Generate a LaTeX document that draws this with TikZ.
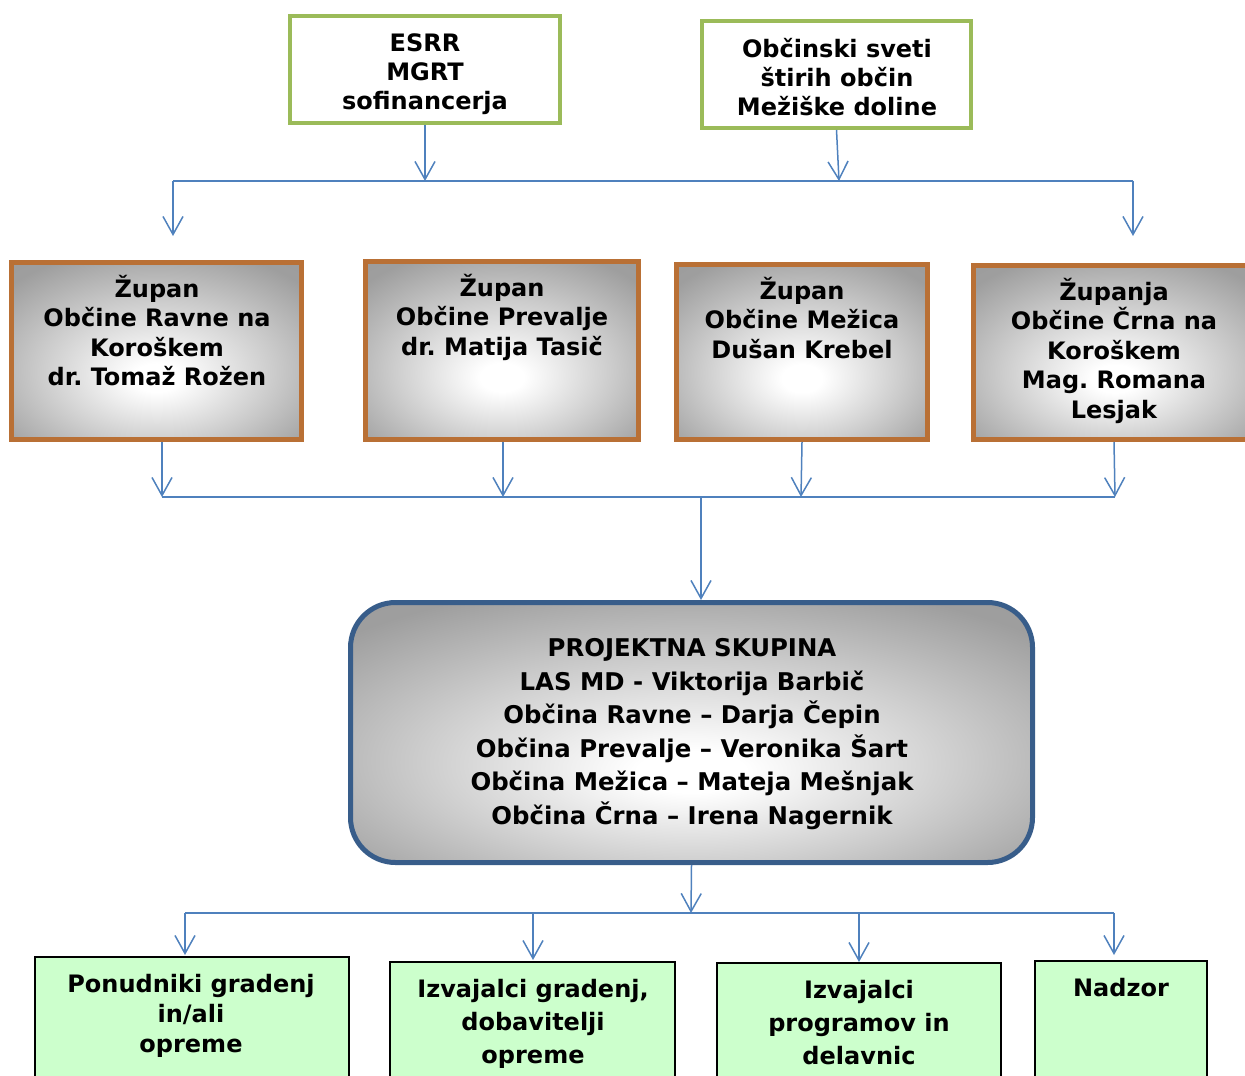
\documentclass[tikz,border=0pt]{standalone}
\usepackage{fontspec}
\setmainfont{DejaVu Sans}
\usetikzlibrary{arrows.meta,calc}
\definecolor{conblue}{HTML}{4F81BD}
\definecolor{midblue}{HTML}{385D8A}
\definecolor{topgreen}{HTML}{9BBB59}
\definecolor{copper}{HTML}{B97035}
\definecolor{lightgreen}{HTML}{CCFFCC}
\definecolor{graymid}{gray}{0.80}
\definecolor{graybox}{gray}{0.62}
\definecolor{graycorner}{gray}{0.57}
\pgfdeclareradialshading{boxshade}{\pgfpoint{0bp}{-8bp}}{color(0bp)=(white); color(4bp)=(white); color(20bp)=(graymid); color(34bp)=(graybox); color(72bp)=(graycorner)}
\begin{document}
\frenchspacing
\begin{tikzpicture}[x=0.5pt,y=-0.5pt,
  txt/.style={font=\bfseries\fontsize{12}{14.75}\selectfont, align=center, inner sep=0pt},
  topbox/.style={draw=topgreen, line width=2pt, fill=white, inner sep=0pt},
  zbox/.style={draw=copper, line width=2.5pt, shading=boxshade, inner sep=0pt},
  midbox/.style={draw=midblue, line width=2.5pt, shading=boxshade, rounded corners=22.5pt, inner sep=0pt},
  gbox/.style={draw=black, line width=0.75pt, fill=lightgreen, inner sep=0pt},
  conn/.style={draw=conblue, line width=0.75pt},
  arr/.style={conn, -{Straight Barb[length=9pt,width=10pt]}}]
\useasboundingbox (0,0) rectangle (1245,1075);

% top boxes
\node[topbox, minimum width=135pt, minimum height=53.5pt] (t1) at (425,69.5) {};
\node[topbox, minimum width=134.5pt, minimum height=53.5pt] (t2) at (836.5,74.5) {};
\node[txt, anchor=north, font=\bfseries\fontsize{12}{14.5}\selectfont] (t1t) at (425,27) {\rule{0pt}{12pt}ESRR\\MGRT\\sofinancerja};
\node[txt, anchor=north, font=\bfseries\fontsize{12}{14.5}\selectfont] (t2t) at (837,33) {\rule{0pt}{12pt}Občinski sveti\\štirih občin\\Mežiške doline};

% mayors
\node[zbox, minimum width=145pt, minimum height=88.5pt] (b1) at (156.5,351) {};
\node[zbox, minimum width=136.5pt, minimum height=89pt] (b2) at (502,350.5) {};
\node[zbox, minimum width=125.5pt, minimum height=87.5pt] (b3) at (802,352) {};
\node[zbox, minimum width=141.5pt, minimum height=87pt] (b4) at (1115,352.5) {};
\node[txt, anchor=north] (b1t) at (157,273) {\rule{0pt}{12pt}Župan\\Občine Ravne na\\Koroškem\\dr. Tomaž Rožen};
\node[txt, anchor=north] (b2t) at (502,272) {\rule{0pt}{12pt}Župan\\Občine Prevalje\\dr. Matija Tasič};
\node[txt, anchor=north] (b3t) at (802,275) {\rule{0pt}{12pt}Župan\\Občine Mežica\\Dušan Krebel};
\node[txt, anchor=north] (b4t) at (1114,276) {\rule{0pt}{12pt}Županja\\Občine Črna na\\Koroškem\\Mag. Romana\\Lesjak};

% project group
\node[midbox, minimum width=341pt, minimum height=130pt] (mid) at (691.5,732.5) {};
\node[txt, anchor=north, font=\bfseries\fontsize{12.2}{16.8}\selectfont] (midt) at (692,632)
  {\rule{0pt}{12pt}PROJEKTNA SKUPINA\\LAS MD - Viktorija Barbič\\Občina Ravne – Darja Čepin\\Občina Prevalje – Veronika Šart\\Občina Mežica – Mateja Mešnjak\\Občina Črna – Irena Nagernik};

% bottom boxes
\node[gbox, minimum width=157pt, minimum height=71.5pt] (g1) at (192,1028.5) {};
\node[gbox, minimum width=142.5pt, minimum height=69pt] (g2) at (532.5,1031) {};
\node[gbox, minimum width=142pt, minimum height=68.5pt] (g3) at (859,1031.5) {};
\node[gbox, minimum width=86pt, minimum height=69.5pt] (g4) at (1121,1030.5) {};
\node[txt, anchor=north, font=\bfseries\fontsize{12}{15}\selectfont] (g1t) at (191,968) {\rule{0pt}{12pt}Ponudniki gradenj\\in/ali\\opreme};
\node[txt, anchor=north, font=\bfseries\fontsize{12}{16.5}\selectfont] (g2t) at (533,973) {\rule{0pt}{12pt}Izvajalci gradenj,\\dobavitelji\\opreme};
\node[txt, anchor=north, font=\bfseries\fontsize{12}{16.5}\selectfont] (g3t) at (859,974) {\rule{0pt}{12pt}Izvajalci\\programov in\\delavnic};
\node[txt, anchor=north] (g4t) at (1121,972) {\rule{0pt}{12pt}Nadzor};

% connectors top
\coordinate (j1) at (425,181);
\coordinate (j2) at (839,181);
\coordinate (l1) at (173,181);
\coordinate (r1) at (1133,181);
\coordinate (a1) at (173,236);
\coordinate (a2) at (1133,236);
\draw[arr] (t1.south) -- (j1);
\draw[arr] (t2.south) -- (j2);
\draw[conn] (l1) -- (r1);
\draw[arr] (l1) -- (a1);
\draw[arr] (r1) -- (a2);

% connectors middle
\coordinate (k1) at (162,497);
\coordinate (k2) at (503,497);
\coordinate (k3) at (801,497);
\coordinate (k4) at (1115,497);
\coordinate (k5) at (701,497);
\draw[arr] (b1.south -| k1) -- (k1);
\draw[arr] (b2.south -| k2) -- (k2);
\draw[arr] (b3.south) -- (k3);
\draw[arr] (b4.south -| 1114,0) -- (k4);
\draw[conn] (k1) -- (k4);
\draw[arr] (k5) -- (k5 |- mid.north);

% connectors bottom
\coordinate (m0) at (691,913);
\coordinate (m1) at (185,913);
\coordinate (m2) at (533,913);
\coordinate (m3) at (859,913);
\coordinate (m4) at (1114,913);
\coordinate (e1) at (185,955);
\coordinate (e2) at (533,960);
\coordinate (e3) at (859,962);
\coordinate (e4) at (1114,955);
\draw[arr] (mid.south) -- (m0);
\draw[conn] (m1) -- (m4);
\draw[arr] (m1) -- (e1);
\draw[arr] (m2) -- (e2);
\draw[arr] (m3) -- (e3);
\draw[arr] (m4) -- (e4);
\end{tikzpicture}
\end{document}
